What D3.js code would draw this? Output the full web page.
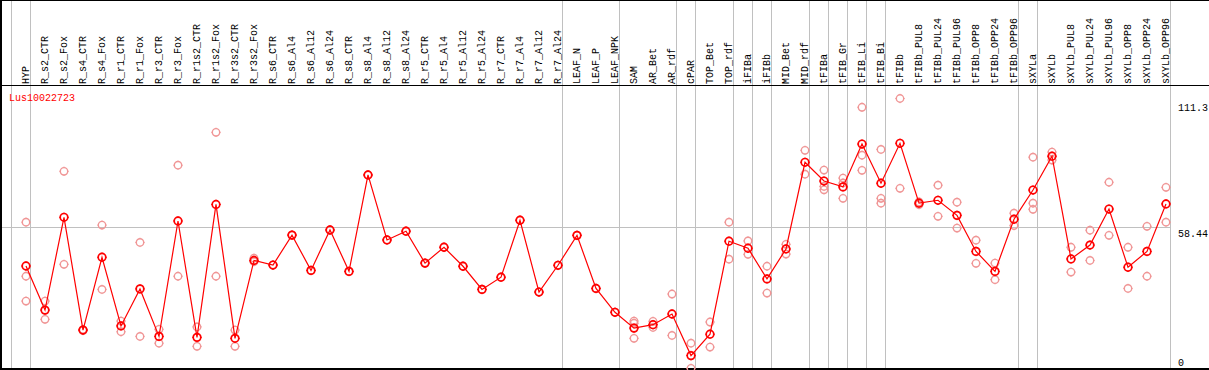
<!DOCTYPE html>
<html><head><meta charset="utf-8">
<script src="https://cdn.jsdelivr.net/npm/d3@7"></script>
<style>
html,body{margin:0;padding:0;background:#fff;}
svg{display:block;}
text{font-family:"Liberation Mono","DejaVu Sans Mono",monospace;font-size:10px;}
</style></head>
<body>
<svg id="chart" width="1209" height="370"></svg>
<script>
const title = "Lus10022723";
const categories = ["HYP","R_s2_CTR","R_s2_Fox","R_s4_CTR","R_s4_Fox","R_r1_CTR","R_r1_Fox","R_r3_CTR","R_r3_Fox","R_r1s2_CTR","R_r1s2_Fox","R_r3s2_CTR","R_r3s2_Fox","R_s6_CTR","R_s6_Al4","R_s6_Al12","R_s6_Al24","R_s8_CTR","R_s8_Al4","R_s8_Al12","R_s8_Al24","R_r5_CTR","R_r5_Al4","R_r5_Al12","R_r5_Al24","R_r7_CTR","R_r7_Al4","R_r7_Al12","R_r7_Al24","LEAF_N","LEAF_P","LEAF_NPK","SAM","AR_Bet","AR_rdf","cPAR","TOP_Bet","TOP_rdf","iFIBa","iFIBb","MID_Bet","MID_rdf","tFIBa","tFIB_Gr","tFIB_Li","tFIB_Bi","tFIBb","tFIBb_PUL8","tFIBb_PUL24","tFIBb_PUL96","tFIBb_OPP8","tFIBb_OPP24","tFIBb_OPP96","sXYLa","sXYLb","sXYLb_PUL8","sXYLb_PUL24","sXYLb_PUL96","sXYLb_OPP8","sXYLb_OPP24","sXYLb_OPP96"];
const means = [42.5,24.4,62.5,16.2,46.1,17.9,33.1,13.6,61.0,13.2,67.8,12.8,44.8,42.9,55.2,40.7,57.3,40.3,79.9,53.2,56.8,43.7,50.2,42.4,32.9,37.9,61.3,31.8,42.8,55.1,33.3,23.5,17.0,18.4,22.8,5.7,14.5,52.7,49.8,37.2,49.5,85.1,77.4,75.0,92.6,76.5,92.9,68.3,69.5,63.3,48.5,40.3,61.7,73.7,87.6,45.4,51.1,65.9,42.0,48.5,68.0];
const replicates = [
 [60.5,38.3,28.1],[28.1,20.6],[81.4,43.2],[16.0,16.4],[59.3,32.9],[19.9,15.5],[52.2,13.6],[16.5,10.8],[83.9,38.3],[17.5,9.5],
 [97.4,38.3],[16.2,9.5],[45.7,44.3],[42.9],[55.2],[40.7],[57.3],[40.3],[79.9],[53.2],
 [56.8],[43.7],[50.2],[42.4],[32.9],[37.9],[61.3],[31.8],[42.8],[55.1],
 [33.3],[23.5],[19.9,19.0,12.8],[19.8,17.3],[31.0,14.0],[10.8,0.5],[19.5,9.2],[60.5,45.3],[52.8,47.3],[42.4,31.4],
 [51.4,47.4],[90.0,80.2],[81.9,75.2,73.8],[78.6,76.6,70.3],[107.7,88.0,81.8],[90.4,70.3,68.3],[111.3,74.4],[68.8,67.7],[75.7,62.9],[68.7,58.1],
 [53.1,43.6],[43.7,36.9],[64.2,59.1],[87.2,68.3,65.8],[89.3,86.0],[50.2,40.0],[57.2,44.8],[76.9,55.1],[50.2,33.3],[58.8,38.3],
 [74.8,60.5]
];
// group separators drawn after these category indices (-1 = before first)
const groupEnds = [-1,0,28,31,34,35,37,38,39,41,42,43,44,45,52,53,60];
const yMax = 111.3, yMid = 58.44, yMin = 0;

const W = 1209, H = 370;
const svg = d3.select("#chart");
const x = d3.scalePoint().domain(categories).range([26, 1166]);
const y = d3.scaleLinear().domain([yMin, yMax]).range([369.5, 98.5]);
const step = x.step();
const sepX = d => Math.round(26 + d * step + 4) + 0.5;

// grey vertical separators
svg.append("g").selectAll("line").data(groupEnds).join("line")
  .attr("x1", sepX).attr("x2", sepX)
  .attr("y1", 0).attr("y2", H)
  .attr("stroke", "#c0c0c0").attr("stroke-width", 1);

// mid reference line
svg.append("line")
  .attr("x1", 0).attr("x2", sepX(60))
  .attr("y1", Math.round(y(yMid)) + 0.5).attr("y2", Math.round(y(yMid)) + 0.5)
  .attr("stroke", "#c0c0c0").attr("stroke-width", 1);

// borders
svg.append("line").attr("x1",0).attr("x2",W).attr("y1",0.5).attr("y2",0.5).attr("stroke","#000");
svg.append("line").attr("x1",0).attr("x2",W).attr("y1",85.5).attr("y2",85.5).attr("stroke","#000");
svg.append("line").attr("x1",1).attr("x2",1).attr("y1",0).attr("y2",H).attr("stroke","#000").attr("stroke-width",2);
svg.append("line").attr("x1",0).attr("x2",W).attr("y1",369).attr("y2",369).attr("stroke","#000").attr("stroke-width",2);

// category labels
svg.append("g").selectAll("text").data(categories).join("text")
  .attr("transform", d => `translate(${x(d) + 3},84) rotate(-90)`)
  .attr("text-anchor", "start")
  .attr("fill", "#000")
  .text(d => d);

// title
svg.append("text").attr("x", 9).attr("y", 101).attr("fill", "#ff0000").text(title);

// right value labels
svg.append("text").attr("x", 1178).attr("y", y(yMax) + 12.5).text(String(yMax));
svg.append("text").attr("x", 1178).attr("y", y(yMid) + 9.5).text(String(yMid));
svg.append("text").attr("x", 1178).attr("y", y(yMin) - 4).text(String(yMin));

const plot = svg.append("g");
const tickPath = (cx, cy, r) => {
  const t = 1;
  return `M${cx},${cy - r - t}V${cy - r}M${cx},${cy + r}V${cy + r + t}M${cx - r - t},${cy}H${cx - r}M${cx + r},${cy}H${cx + r + t}`;
};

// replicate points
const repPts = [];
replicates.forEach((arr, i) => arr.forEach(v => repPts.push({c: categories[i], v})));
const repG = plot.append("g");
repG.selectAll("circle").data(repPts).join("circle")
  .attr("cx", d => x(d.c)).attr("cy", d => y(d.v)).attr("r", 3.7)
  .attr("fill", "none").attr("stroke", "#f09696").attr("stroke-width", 1.4);
repG.selectAll("path").data(repPts).join("path")
  .attr("d", d => tickPath(x(d.c), y(d.v), 3.7))
  .attr("stroke", "#f09696").attr("stroke-width", 1).attr("fill", "none");

// mean line
const meanData = categories.map((c, i) => ({c, v: means[i]}));
plot.append("path").datum(meanData)
  .attr("d", d3.line().x(d => x(d.c)).y(d => y(d.v)))
  .attr("fill", "none").attr("stroke", "#ff0000").attr("stroke-width", 1.2);

const meanG = plot.append("g");
meanG.selectAll("circle").data(meanData).join("circle")
  .attr("cx", d => x(d.c)).attr("cy", d => y(d.v)).attr("r", 3.8)
  .attr("fill", "none").attr("stroke", "#ff0000").attr("stroke-width", 1.7);
meanG.selectAll("path").data(meanData).join("path")
  .attr("d", d => tickPath(x(d.c), y(d.v), 3.8))
  .attr("stroke", "#ff0000").attr("stroke-width", 1).attr("fill", "none");
</script>
</body></html>
